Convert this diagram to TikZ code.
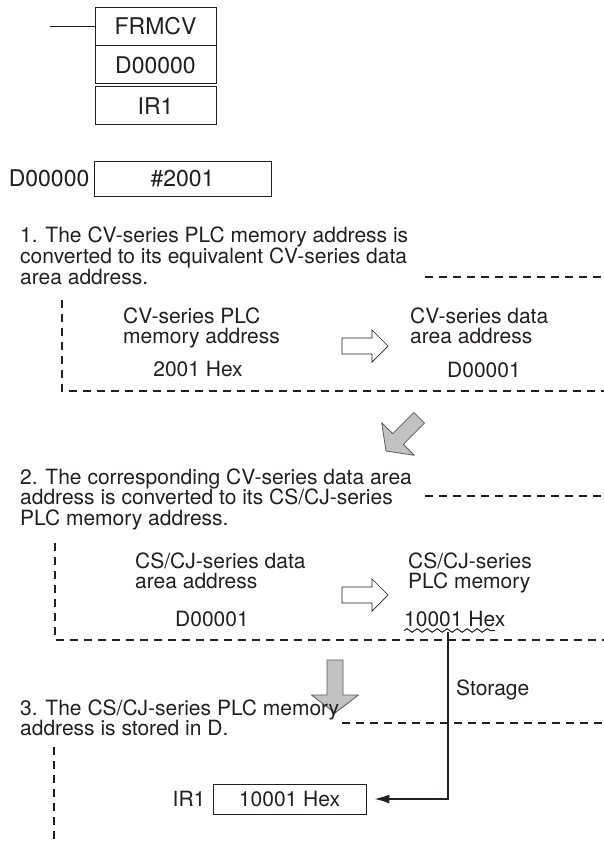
\documentclass[tikz,border=0pt]{standalone}
\usepackage{fontspec}
\setmainfont{TeX Gyre Heros}
\usetikzlibrary{arrows.meta,positioning,decorations.pathmorphing}
\definecolor{ink}      {HTML}{231F20}
\definecolor{arrowfill}{HTML}{C1C2C4}
\definecolor{arrowedge}{HTML}{5A5B5D}
\tikzset{
  big/.style={font=\fontsize{23}{27}\selectfont, text=ink},
  lab/.style={font=\fontsize{21}{24}\selectfont, text=ink, inner sep=0pt},
  txt/.style={lab, anchor=base west},
  regbox/.style={draw=ink, line width=0.9pt, minimum width=121pt,
                 minimum height=38pt, inner sep=0pt, big},
  frame/.style={draw=ink, line width=1.7pt, dash pattern=on 8pt off 6pt},
  bigarrow/.style={fill=arrowfill, draw=arrowedge, line width=0.8pt, line join=round},
}

\begin{document}
\begin{tikzpicture}[x=1pt,y=-1pt]
 \useasboundingbox (0,0) rectangle (604,841);
 % instruction
 \coordinate (rail) at (50,26);
 \node[regbox] (frmcv) at (155.5,26) {FRMCV};
 \node[regbox, below=0pt of frmcv] (dop) {D00000};
 \node[regbox, below=2pt of dop] (irop) {IR1};
 \draw[ink, line width=0.9pt] (rail) -- (frmcv.west);
 % source word
 \node[draw=ink, line width=0.9pt, minimum width=177pt, minimum height=35pt,
       inner sep=0pt, big] (src) at (182.5,178.5) {\#2001};
 \node[big, inner sep=0pt, left=4pt of src] (srclab) {D00000};

 % step 1
 \foreach \t [count=\i] in {{1. The CV-series PLC memory address is},
                            {converted to its equivalent CV-series data},
                            {area address.}}
   \node[txt] (s1l\i) at (20,{242+21*(\i-1)}) {\t};
 \draw[frame] (425,277) -- (604,277);
 \draw[frame] (62,300) -- (62,391) -- (604,391);
 \node[txt] (cvmemA) at (123,323) {CV-series PLC};
 \node[txt] (cvmemB) at (123,343) {memory address};
 \node[lab, anchor=base] (hexA) at (198,376) {2001 Hex};
 \node[txt] (cvdatA) at (410,323) {CV-series data};
 \node[txt] (cvdatB) at (410,343) {area address};
 \node[lab, anchor=base] (dA) at (484,377) {D00001};

 % hollow arrows
 \foreach \yc in {346,595}
   \draw[ink, line width=0.7pt, line join=miter]
     (342,\yc-8) -- (372,\yc-8) -- (372,\yc-16) -- (388,\yc)
     -- (372,\yc+16) -- (372,\yc+8) -- (342,\yc+8) -- cycle;

 % gray arrow 1 to 2
 \draw[bigarrow] (413.9,412.5) -- (424.5,423.1) -- (403.3,444.3) -- (414.3,455.3)
   -- (386,451) -- (381.7,422.7) -- (392.7,433.7) -- cycle;

 % step 2
 \foreach \t [count=\i] in {{2. The corresponding CV-series data area},
                            {address is converted to its CS/CJ-series},
                            {PLC memory address.}}
   \node[txt] (s2l\i) at (20,{484+20.5*(\i-1)}) {\t};
 \draw[frame] (425,496) -- (604,496);
 \draw[frame] (55,543) -- (55,640) -- (604,640);
 \node[txt] (csdatA) at (135,568) {CS/CJ-series data};
 \node[txt] (csdatB) at (135,588) {area address};
 \node[lab, anchor=base] (dB) at (212,626) {D00001};
 \node[txt] (csmemA) at (408,568) {CS/CJ-series};
 \node[txt] (csmemB) at (408,588) {PLC memory};
 \node[txt] (hexB) at (404,626) {10001 Hex};
 \draw[ink, line width=1pt, decorate,
       decoration={snake, amplitude=1.8pt, segment length=10pt}] (404,630.5) -- (495,630.5);

 % gray arrow 2 to 3
 \draw[bigarrow] (327,660) -- (343,660) -- (343,695) -- (358.5,695)
   -- (335,713) -- (311.5,695) -- (327,695) -- cycle;

 % step 3
 \foreach \t [count=\i] in {{3. The CS/CJ-series PLC memory},
                            {address is stored in D.}}
   \node[txt] (s3l\i) at (20,{715+20.5*(\i-1)}) {\t};
 \draw[frame] (342,723) -- (604,723);
 \draw[frame] (54,747) -- (54,841);
 \node[draw=ink, line width=0.9pt, minimum width=153pt, minimum height=30pt,
       lab] (irval) at (289.5,799) {10001 Hex};
 \node[lab, left=7pt of irval] (irlab) {IR1};

 % storage
 \coordinate (wave) at (448,632);
 \node[txt] (storlab) at (456,695) {Storage};
 \draw[ink, line width=1.4pt, -{Latex[length=15pt,width=9pt]}, shorten >=8pt]
   (wave) |- (irval.east);
\end{tikzpicture}
\end{document}
